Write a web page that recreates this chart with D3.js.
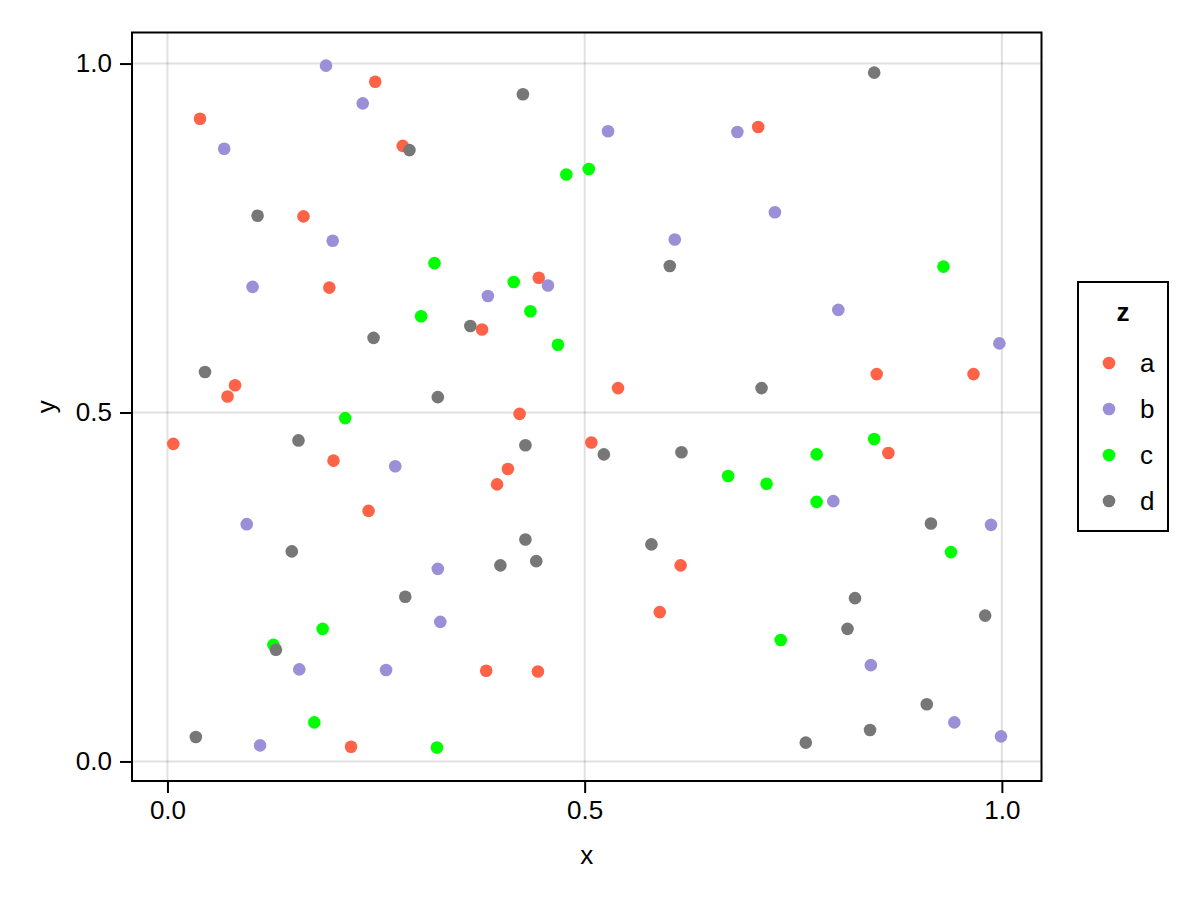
<!DOCTYPE html>
<html>
<head>
<meta charset="utf-8">
<script src="https://cdn.jsdelivr.net/npm/d3@7"></script>
<style>
  html, body { margin: 0; padding: 0; background: #fff; }
  svg { display: block; font-family: "Liberation Sans", Arial, Helvetica, sans-serif; }
</style>
</head>
<body>
<svg id="chart" width="1200" height="900"></svg>
<script>
// ---- data ----
const groups = ["a", "b", "c", "d"];
const groupColors = ["#ff6347", "#9b8fd8", "#00ff00", "#777777"];

const aX = [0.007,0.039,0.072,0.081,0.163,0.199,0.220,0.249,0.241,0.282,0.194,0.377,0.382,0.395,0.408,0.422,0.445,0.444,0.508,0.540,0.590,0.615,0.708,0.850,0.864,0.966];
const aY = [0.455,0.921,0.523,0.539,0.781,0.431,0.021,0.974,0.359,0.882,0.679,0.619,0.130,0.397,0.419,0.498,0.693,0.129,0.457,0.535,0.214,0.281,0.909,0.555,0.442,0.555];

const bX = [0.068,0.102,0.095,0.158,0.190,0.198,0.234,0.111,0.262,0.273,0.324,0.327,0.384,0.456,0.528,0.608,0.683,0.728,0.804,0.798,0.843,0.943,0.987,0.997,0.999];
const bY = [0.878,0.680,0.340,0.132,0.997,0.746,0.943,0.023,0.131,0.423,0.276,0.200,0.667,0.682,0.903,0.748,0.902,0.787,0.647,0.373,0.138,0.056,0.339,0.599,0.036];

const cX = [0.127,0.176,0.186,0.213,0.304,0.320,0.323,0.415,0.435,0.468,0.478,0.505,0.672,0.718,0.735,0.778,0.778,0.847,0.930,0.939];
const cY = [0.167,0.056,0.190,0.492,0.638,0.714,0.020,0.687,0.645,0.597,0.841,0.849,0.409,0.398,0.174,0.372,0.440,0.462,0.709,0.300];

const dX = [0.034,0.045,0.108,0.130,0.149,0.157,0.247,0.285,0.290,0.324,0.363,0.399,0.426,0.429,0.429,0.442,0.523,0.580,0.602,0.616,0.712,0.765,0.815,0.824,0.842,0.847,0.910,0.915,0.980];
const dY = [0.035,0.558,0.782,0.160,0.301,0.460,0.607,0.236,0.876,0.522,0.624,0.281,0.956,0.453,0.318,0.287,0.440,0.311,0.710,0.443,0.535,0.027,0.190,0.234,0.045,0.987,0.082,0.341,0.209];

const xTicks = [0.0, 0.5, 1.0];
const yTicks = [0.0, 0.5, 1.0];
const xTickLabels = ["0.0", "0.5", "1.0"];
const yTickLabels = ["0.0", "0.5", "1.0"];

// ---- build rows ----
const seriesX = [aX, bX, cX, dX];
const seriesY = [aY, bY, cY, dY];
const points = [];
groups.forEach((g, gi) => {
  seriesX[gi].forEach((xv, i) => points.push({ z: g, x: xv, y: seriesY[gi][i] }));
});

// ---- layout ----
const L = 132, R = 1041.5, T = 32.5, B = 781;
const FS = 26;
const svg = d3.select("#chart");

const x = d3.scaleLinear().domain([-0.0425, 1.0475]).range([L, R]);
const y = d3.scaleLinear().domain([-0.028, 1.0445]).range([B, T]);
const color = d3.scaleOrdinal().domain(groups).range(groupColors);

// gridlines
const grid = svg.append("g");
grid.selectAll("line.gx").data(xTicks).join("line")
  .attr("x1", d => x(d)).attr("x2", d => x(d))
  .attr("y1", T).attr("y2", B)
  .attr("stroke", "#000").attr("stroke-opacity", 0.12).attr("stroke-width", 2);
grid.selectAll("line.gy").data(yTicks).join("line")
  .attr("y1", d => y(d)).attr("y2", d => y(d))
  .attr("x1", L).attr("x2", R)
  .attr("stroke", "#000").attr("stroke-opacity", 0.12).attr("stroke-width", 2);

// points
svg.append("g").selectAll("circle").data(points).join("circle")
  .attr("cx", d => x(d.x))
  .attr("cy", d => y(d.y))
  .attr("r", 6.3)
  .attr("fill", d => color(d.z));

// frame
svg.append("rect")
  .attr("x", L).attr("y", T).attr("width", R - L).attr("height", B - T)
  .attr("fill", "none").attr("stroke", "#000").attr("stroke-width", 2);

// axes
const xAxis = d3.axisBottom(x).tickValues(xTicks)
  .tickFormat((d, i) => xTickLabels[i]).tickSize(12).tickPadding(8);
const gx = svg.append("g").attr("transform", `translate(0,${B})`).call(xAxis);
gx.select(".domain").remove();
gx.selectAll(".tick line").attr("stroke", "#000").attr("stroke-width", 2);
gx.selectAll(".tick text").attr("font-size", FS).attr("fill", "#000")
  .attr("font-family", "Liberation Sans, Arial, sans-serif");

const yAxis = d3.axisLeft(y).tickValues(yTicks)
  .tickFormat((d, i) => yTickLabels[i]).tickSize(12).tickPadding(8);
const gy = svg.append("g").attr("transform", `translate(${L},0)`).call(yAxis);
gy.select(".domain").remove();
gy.selectAll(".tick line").attr("stroke", "#000").attr("stroke-width", 2);
gy.selectAll(".tick text").attr("font-size", FS).attr("fill", "#000")
  .attr("font-family", "Liberation Sans, Arial, sans-serif");

// axis titles
svg.append("text").attr("x", (L + R) / 2).attr("y", 864)
  .attr("text-anchor", "middle").attr("font-size", FS).text("x");
svg.append("text")
  .attr("transform", `translate(55,${(T + B) / 2}) rotate(-90)`)
  .attr("text-anchor", "middle").attr("font-size", FS).text("y");

// legend
const lg = svg.append("g");
lg.append("rect").attr("x", 1078).attr("y", 282).attr("width", 90).attr("height", 249)
  .attr("fill", "#fff").attr("stroke", "#000").attr("stroke-width", 2);
lg.append("text").attr("x", 1123).attr("y", 321).attr("text-anchor", "middle")
  .attr("font-size", FS).attr("font-weight", "bold").text("z");
const items = lg.selectAll("g.item").data(groups).join("g")
  .attr("transform", (d, i) => `translate(0,${363 + i * 46})`);
items.append("circle").attr("cx", 1109).attr("cy", 0).attr("r", 6.3)
  .attr("fill", d => color(d));
items.append("text").attr("x", 1140).attr("y", 9).attr("font-size", FS)
  .text(d => d);
</script>
</body>
</html>
